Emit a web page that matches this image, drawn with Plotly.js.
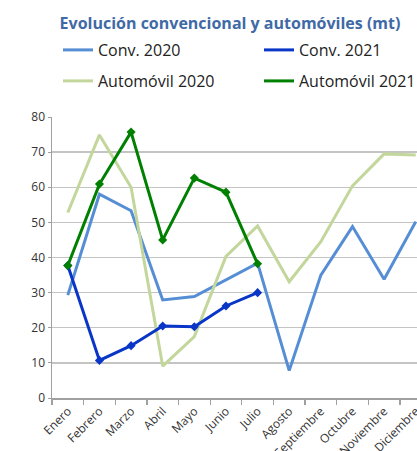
<!DOCTYPE html>
<html>
<head>
<meta charset="utf-8">
<script src="https://cdn.plot.ly/plotly-3.0.1.min.js"></script>
<style>html,body{margin:0;padding:0;background:#fff;}#chart{width:417px;height:451px;}</style>
</head>
<body>
<div id="chart"></div>
<script>
const months = ["Enero","Febrero","Marzo","Abril","Mayo","Junio","Julio","Agosto","Septiembre","Octubre","Noviembre","Diciembre"];
const conv2020 = [29.3, 58.0, 53.3, 27.9, 28.9, 33.6, 38.4, 7.8, 35.0, 48.8, 33.8, 50.2];
const conv2021 = [37.7, 10.7, 14.9, 20.5, 20.3, 26.2, 30.0];
const auto2020 = [52.8, 74.9, 60.0, 9.1, 17.5, 40.3, 49.0, 33.1, 44.5, 60.4, 69.5, 69.2];
const auto2021 = [37.7, 60.9, 75.7, 45.0, 62.6, 58.6, 38.2];
const yTicks = [0,10,20,30,40,50,60,70,80];

const font = "'Open Sans', 'Noto Sans', sans-serif";
const traces = [
  {x: months, y: conv2020, name: "Conv. 2020", type: "scatter", mode: "lines",
   line: {color: "#558ED5", width: 3}, legend: "legend"},
  {x: months, y: auto2020, name: "Automóvil 2020", type: "scatter", mode: "lines",
   line: {color: "#C3D69B", width: 3}, legend: "legend3"},
  {x: months.slice(0, conv2021.length), y: conv2021, name: "Conv. 2021", type: "scatter", mode: "lines",
   line: {color: "#0A36C8", width: 3}, legend: "legend2"},
  {x: months.slice(0, conv2021.length), y: conv2021, name: "Conv. 2021", type: "scatter", mode: "markers",
   marker: {symbol: "diamond", size: 7, color: "#0A36C8"}, showlegend: false},
  {x: months.slice(0, auto2021.length), y: auto2021, name: "Automóvil 2021", type: "scatter", mode: "lines",
   line: {color: "#008000", width: 3}, legend: "legend4"},
  {x: months.slice(0, auto2021.length), y: auto2021, name: "Automóvil 2021", type: "scatter", mode: "markers",
   marker: {symbol: "diamond", size: 7, color: "#008000"}, showlegend: false}
];

function leg(x, y) {
  return {
    orientation: "h", xref: "container", yref: "container", xanchor: "left", yanchor: "middle",
    x: x / 417, y: 1 - y / 451,
    font: {family: font, size: 16, color: "#222"},
    bgcolor: "rgba(0,0,0,0)", itemclick: false, itemdoubleclick: false
  };
}

const layout = {
  width: 417, height: 451,
  margin: {l: 52, r: 0, t: 117, b: 53, autoexpand: false},
  paper_bgcolor: "#fff", plot_bgcolor: "#fff",
  font: {family: font, color: "#333"},
  title: {text: "<b>Evolución convencional y automóviles (mt)</b>", x: 230/417, xanchor: "center",
          y: 1 - 23/451, yanchor: "middle", xref: "container", yref: "container",
          font: {family: font, size: 16, color: "#3F6AA6"}},
  showlegend: true,
  legend: leg(58, 50),
  legend2: leg(259, 50),
  legend3: leg(58, 81),
  legend4: leg(259, 81),
  xaxis: {
    type: "category", range: [-0.5, 11.04], tickangle: -45,
    tickfont: {family: font, size: 12, color: "#333"},
    showgrid: false, showline: true, linecolor: "#A0A0A0", linewidth: 1.5,
    ticks: "outside", tickson: "boundaries", ticklen: 5, tickcolor: "#A0A0A0", tickwidth: 1.3,
    fixedrange: true, automargin: false
  },
  yaxis: {
    range: [0, 80], tickvals: yTicks, ticktext: yTicks.map(String),
    tickfont: {family: font, size: 12, color: "#333"},
    showgrid: true, gridcolor: "#C4C4C4", gridwidth: 1.3,
    showline: true, linecolor: "#A0A0A0", linewidth: 1.5,
    ticks: "outside", ticklen: 3, tickcolor: "#A0A0A0", zeroline: false,
    fixedrange: true, automargin: false
  }
};

Plotly.newPlot("chart", traces, layout, {displayModeBar: false, staticPlot: true});
</script>
</body>
</html>
